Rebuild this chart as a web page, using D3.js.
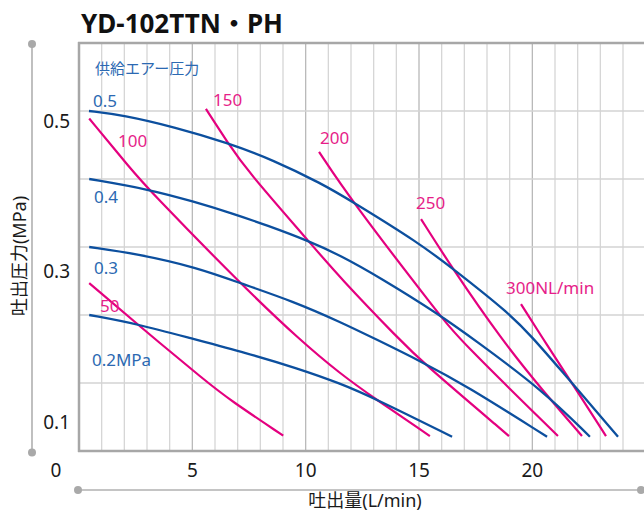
<!DOCTYPE html>
<html><head><meta charset="utf-8">
<script src="https://cdn.jsdelivr.net/npm/d3@7"></script>
<style>body{margin:0;background:#fff}svg{display:block}</style>
</head><body>
<svg id="c" width="644" height="512"></svg>
<script>
// ---------- text ----------
const title = "YD-102TTN・PH";
const xTitle = "吐出量(L/min)";
const yTitle = "吐出圧力(MPa)";
const supplyHeader = "供給エアー圧力";
const xTickValues = [5, 10, 15, 20];
const originLabel = "0";
const yTickLabels = ["0.1", "0.3", "0.5"];
const yTickLabelAt = [0.043, 0.265, 0.485];   // where the reference prints them (MPa)

// ---------- supply-pressure curves (blue) ----------
const p05Flow  = [0.44, 1.94, 4.24, 6.57, 8.56, 10.72, 12.0, 15.0, 16.46, 18.97, 20.03, 21.0, 23.78];
const p05Press = [0.500, 0.494, 0.476, 0.453, 0.428, 0.393, 0.368, 0.306, 0.269, 0.203, 0.166, 0.129, 0.021];
const p04Flow  = [0.45, 3.06, 5.04, 6.81, 8.28, 10.12, 11.51, 13.28, 15.88, 17.47, 20.43, 22.54];
const p04Press = [0.400, 0.385, 0.367, 0.349, 0.332, 0.309, 0.288, 0.255, 0.201, 0.163, 0.090, 0.021];
const p03Flow  = [0.45, 2.55, 5.19, 7.18, 9.45, 11.51, 13.06, 15.13, 17.03, 20.65];
const p03Press = [0.300, 0.290, 0.270, 0.246, 0.220, 0.190, 0.165, 0.131, 0.097, 0.021];
const p02Flow  = [0.45, 2.55, 4.90, 7.40, 9.60, 11.51, 13.01, 16.46];
const p02Press = [0.200, 0.187, 0.166, 0.144, 0.122, 0.0996, 0.078, 0.021];

// ---------- air-consumption lines (magenta) ----------
const a50Flow   = [0.45, 2.55, 5.65, 6.66, 9.01];
const a50Press  = [0.247, 0.187, 0.101, 0.075, 0.0225];
const a100Flow  = [0.45, 2.33, 3.06, 7.18, 9.75, 11.51, 13.01, 15.48];
const a100Press = [0.489, 0.413, 0.385, 0.244, 0.163, 0.114, 0.078, 0.022];
const a150Flow  = [5.60, 6.57, 7.40, 10.12, 11.51, 14.16, 15.13, 18.97];
const a150Press = [0.503, 0.453, 0.413, 0.309, 0.255, 0.163, 0.131, 0.022];
const a200Flow  = [10.59, 12.0, 15.88, 16.81, 21.13];
const a200Press = [0.440, 0.369, 0.201, 0.163, 0.022];
const a250Flow  = [15.09, 16.46, 18.66, 20.43, 22.19];
const a250Press = [0.341, 0.269, 0.163, 0.090, 0.022];
const a300Flow  = [19.50, 20.51, 21.18, 23.25];
const a300Press = [0.216, 0.163, 0.129, 0.022];

// ---------- curve labels (text + anchor in data units) ----------
const blueLabelText = ["0.5", "0.4", "0.3", "0.2MPa"];
const blueLabelFlow = [0.62, 0.66, 0.66, 0.57];
const blueLabelPress = [0.506, 0.365, 0.260, 0.125];
const pinkLabelText = ["50", "100", "150", "200", "250", "300NL/min"];
const pinkLabelFlow = [0.93, 1.72, 5.91, 10.63, 14.87, 18.84];
const pinkLabelPress = [0.204, 0.447, 0.507, 0.451, 0.356, 0.231];

// ---------- drawing ----------
const W = 644, H = 512;
const BLUE = "#0c4f9e", PINK = "#e4007f", BLUE_T = "#2b69b2", PINK_T = "#e61e89";
const FONT = "'Noto Sans','Noto Sans CJK JP',sans-serif";
const svg = d3.select("#c");

const x = d3.scaleLinear().domain([0, 25]).range([79, 79 + 25 * 22.667]);
const y = d3.scaleLinear().domain([0, 0.6]).range([451, 43]);

// grid
const g = svg.append("g");
g.selectAll("line.v").data(d3.range(1, 26)).join("line")
  .attr("x1", d => x(d)).attr("x2", d => x(d))
  .attr("y1", y(0.6)).attr("y2", y(0))
  .attr("stroke", d => d % 5 === 0 ? "#b9b9b9" : "#d6d6d6").attr("stroke-width", 1.3);
g.selectAll("line.h").data([0.1, 0.2, 0.3, 0.4, 0.5]).join("line")
  .attr("x1", x(0)).attr("x2", W)
  .attr("y1", d => y(d)).attr("y2", d => y(d))
  .attr("stroke", "#d3d3d3").attr("stroke-width", 1.3);
// frame
const frame = "#a7a7a7";
g.append("line").attr("x1", x(0) - 1).attr("x2", W).attr("y1", y(0.6)).attr("y2", y(0.6)).attr("stroke", frame).attr("stroke-width", 2.5);
g.append("line").attr("x1", x(0) - 1).attr("x2", W).attr("y1", y(0)).attr("y2", y(0)).attr("stroke", frame).attr("stroke-width", 2.5);
g.append("line").attr("x1", x(0)).attr("x2", x(0)).attr("y1", y(0.6) - 1).attr("y2", y(0) + 1).attr("stroke", frame).attr("stroke-width", 2.5);

// decorative axes with dots
const axc = "#b0b0b0";
svg.append("line").attr("x1", 32).attr("x2", 32).attr("y1", y(0.6) + 1).attr("y2", y(0) + 1.5).attr("stroke", axc).attr("stroke-width", 1.6);
svg.selectAll("circle.l").data([y(0.6) + 1, y(0) + 1.5]).join("circle")
  .attr("cx", 32).attr("cy", d => d).attr("r", 4).attr("fill", "#a9a9a9");
svg.append("line").attr("x1", x(0) - 1).attr("x2", 641).attr("y1", 490).attr("y2", 490).attr("stroke", axc).attr("stroke-width", 1.6);
svg.selectAll("circle.b").data([x(0) - 1, 641]).join("circle")
  .attr("cx", d => d).attr("cy", 490).attr("r", 4).attr("fill", "#a9a9a9");

// tick labels
svg.selectAll("text.xt").data(xTickValues).join("text")
  .attr("x", d => x(d)).attr("y", 477).attr("text-anchor", "middle")
  .attr("font-family", FONT).attr("font-size", 19).attr("fill", "#1a1a1a").text(d => d);
svg.append("text").attr("x", 56).attr("y", 477).attr("text-anchor", "middle")
  .attr("font-family", FONT).attr("font-size", 19).attr("fill", "#1a1a1a").text(originLabel);
svg.selectAll("text.yt").data(yTickLabels).join("text")
  .attr("x", 70).attr("y", (d, i) => y(yTickLabelAt[i])).attr("dy", "0.36em").attr("text-anchor", "end")
  .attr("font-family", FONT).attr("font-size", 19).attr("fill", "#1a1a1a").text(d => d);

// axis titles
svg.append("text").attr("x", 365).attr("y", 507).attr("text-anchor", "middle")
  .attr("font-family", FONT).attr("font-size", 18).attr("fill", "#1a1a1a").text(xTitle);
svg.append("text").attr("transform", "translate(18.5,256) rotate(-90)")
  .attr("text-anchor", "middle").attr("dominant-baseline", "central")
  .attr("font-family", FONT).attr("font-size", 18).attr("fill", "#1a1a1a").text(yTitle);

// title
const t = svg.append("text").attr("x", 81).attr("y", 33)
  .attr("font-family", FONT).attr("font-weight", "bold").attr("font-size", 27)
  .attr("fill", "#111").text(title);
const tw = t.node().getComputedTextLength();
t.attr("font-size", 27 * 202 / tw);

// curves
const line = d3.line().x(d => x(d[0])).y(d => y(d[1])).curve(d3.curveBasis);
const zip = (a, b) => a.map((v, i) => [v, b[i]]);
const blueSeries = [zip(p05Flow, p05Press), zip(p04Flow, p04Press), zip(p03Flow, p03Press), zip(p02Flow, p02Press)];
const pinkSeries = [zip(a50Flow, a50Press), zip(a100Flow, a100Press), zip(a150Flow, a150Press),
                    zip(a200Flow, a200Press), zip(a250Flow, a250Press), zip(a300Flow, a300Press)];

svg.append("g").selectAll("path").data(pinkSeries).join("path")
  .attr("d", line).attr("fill", "none").attr("stroke", PINK).attr("stroke-width", 2.2);
svg.append("g").selectAll("path").data(blueSeries).join("path")
  .attr("d", line).attr("fill", "none").attr("stroke", BLUE).attr("stroke-width", 2.3);

// labels
svg.append("text").attr("x", x(0.71)).attr("y", y(0.554))
  .attr("font-family", FONT).attr("font-size", 15).attr("fill", BLUE_T).text(supplyHeader);
svg.selectAll("text.bl").data(blueLabelText).join("text")
  .attr("x", (d, i) => x(blueLabelFlow[i])).attr("y", (d, i) => y(blueLabelPress[i]))
  .attr("font-family", FONT).attr("font-size", 17).attr("fill", BLUE_T).text(d => d);
svg.selectAll("text.pl").data(pinkLabelText).join("text")
  .attr("x", (d, i) => x(pinkLabelFlow[i])).attr("y", (d, i) => y(pinkLabelPress[i]))
  .attr("font-family", FONT).attr("font-size", 17).attr("fill", PINK_T).text(d => d);
</script>
</body></html>
